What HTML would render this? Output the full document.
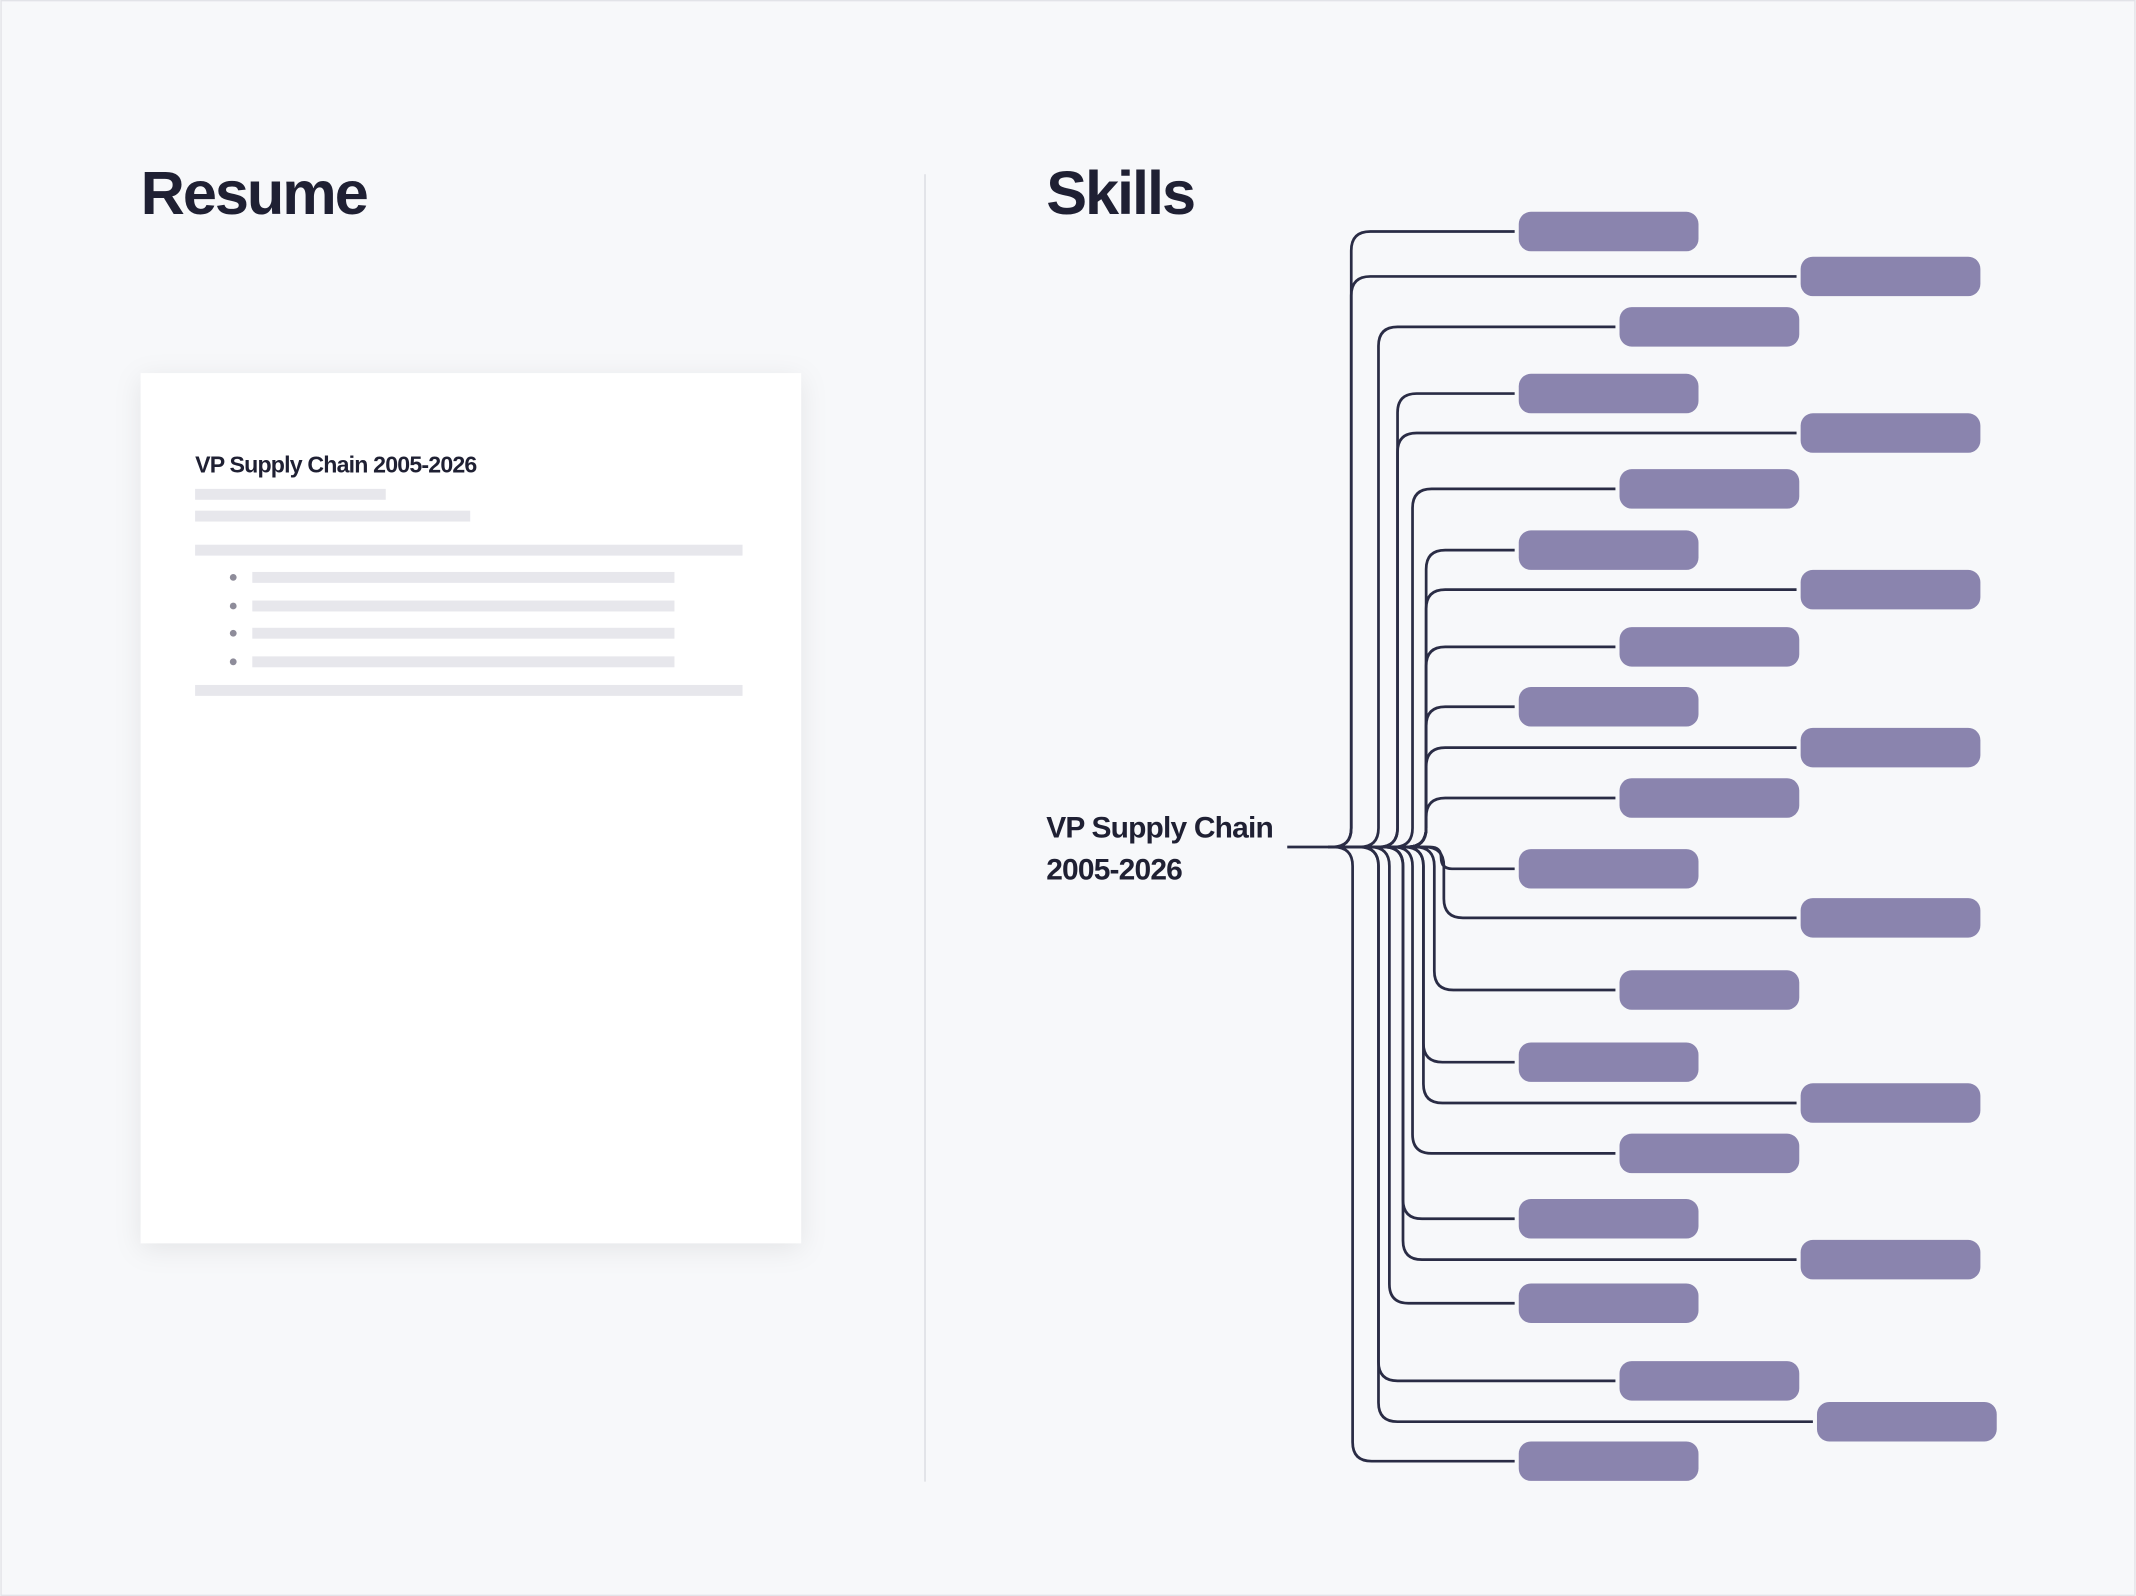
<!DOCTYPE html>
<html><head><meta charset="utf-8"><style>
html,body{margin:0;padding:0;background:#f7f8fa;}
svg{display:block;}
text{font-family:"Liberation Sans",sans-serif;font-weight:bold;fill:#1f2033;}
</style></head><body>
<svg width="2136" height="1596" viewBox="0 0 1568 1172" xmlns="http://www.w3.org/2000/svg">
<defs>
<filter id="sh" x="-20%" y="-20%" width="140%" height="140%"><feDropShadow dx="0" dy="4" stdDeviation="10" flood-color="#000" flood-opacity="0.08"/></filter>
</defs>
<rect x="0.5" y="0.5" width="1567" height="1171" fill="#f7f8fa" stroke="#e2e3e8"/>
<text x="103" y="157" font-size="45" letter-spacing="-1.5">Resume</text>
<text x="768" y="157" font-size="45" letter-spacing="-1.5">Skills</text>
<line x1="679" y1="128" x2="679" y2="1088" stroke="#d9dae0" stroke-width="1"/>
<rect x="103" y="274" width="485" height="639" fill="#fff" filter="url(#sh)"/>
<text x="143" y="347" font-size="17" letter-spacing="-0.6" fill="#23253a">VP Supply Chain 2005-2026</text>
<g fill="#e7e7ec">
<rect x="143" y="359" width="140" height="8"/>
<rect x="143" y="375" width="202" height="8"/>
<rect x="143" y="400" width="402" height="8"/>
<rect x="185" y="420" width="310" height="8"/>
<rect x="185" y="441" width="310" height="8"/>
<rect x="185" y="461" width="310" height="8"/>
<rect x="185" y="482" width="310" height="8"/>
<rect x="143" y="503" width="402" height="8"/>
</g>
<g fill="#8e8c9a"><circle cx="171" cy="424" r="2.5"/><circle cx="171" cy="445" r="2.5"/><circle cx="171" cy="465" r="2.5"/><circle cx="171" cy="486" r="2.5"/></g>
<text x="768" y="615" font-size="22" letter-spacing="-0.6">VP Supply Chain</text>
<text x="768" y="646" font-size="22" letter-spacing="-0.6">2005-2026</text>
<g id="edges" fill="none" stroke="#2a2c45" stroke-width="2"></g>
<g id="pills" fill="#8a84ae"></g>
<line x1="945" y1="622" x2="985" y2="622" stroke="#2a2c45" stroke-width="2"/>
</svg>
<script>
var R=[[170,992,'A'],[203,992,'B'],[240,1012,'C'],[289,1026,'A'],[318,1026,'B'],[359,1037,'C'],[404,1047,'A'],[433,1047,'B'],[475,1047,'C'],[519,1047,'A'],[549,1047,'B'],[586,1047,'C'],
[638,1058,'A'],[674,1060,'B'],[727,1053,'C'],[780,1045,'A'],[810,1045,'B'],[847,1037,'C'],[895,1030,'A'],[925,1030,'B'],[957,1020,'A'],[1014,1012,'C'],[1044,1012,'D'],[1073,993,'A']];
var X={A:1115,B:1322,C:1189,D:1334};
var ns='http://www.w3.org/2000/svg';
var E=document.getElementById('edges'),P=document.getElementById('pills');
R.forEach(function(r){
 var y=r[0],tx=r[1],px=X[r[2]];
 var dy=y-622,s=dy<0?-1:1,rr=Math.min(14,Math.abs(dy)/2);
 var d='M975 622 H'+(tx-rr)+' Q'+tx+' 622 '+tx+' '+(622+s*rr)+' V'+(y-s*rr)+' Q'+tx+' '+y+' '+(tx+rr)+' '+y+' H'+(px-3);
 var p=document.createElementNS(ns,'path');p.setAttribute('d',d);E.appendChild(p);
 var q=document.createElementNS(ns,'rect');q.setAttribute('x',px);q.setAttribute('y',y-14.5);q.setAttribute('width',132);q.setAttribute('height',29);q.setAttribute('rx',9);P.appendChild(q);
});
</script>
</body></html>
